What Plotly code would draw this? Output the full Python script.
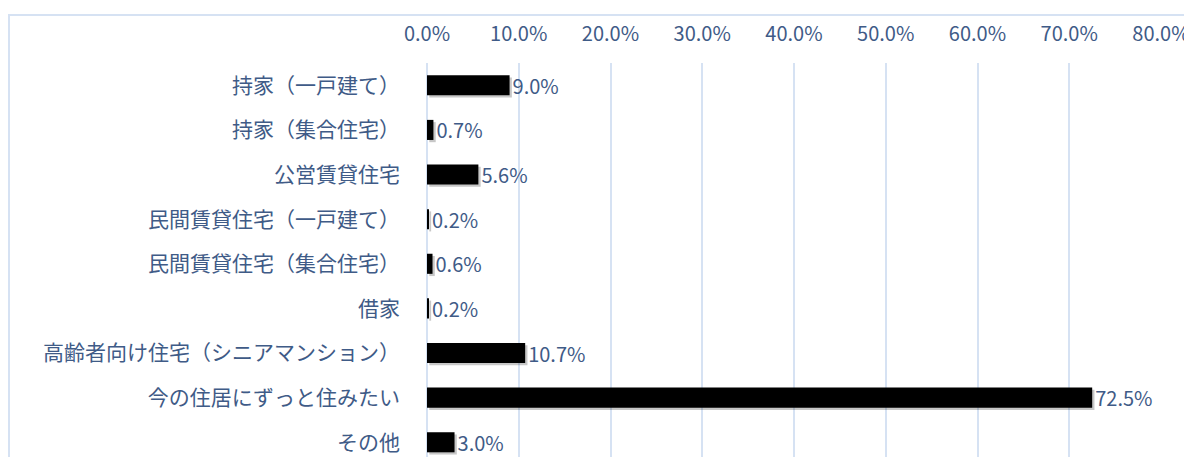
import plotly.graph_objs as go

# --- Data (top to bottom as shown in the chart) ---
categories = [
    "持家（一戸建て）",
    "持家（集合住宅）",
    "公営賃貸住宅",
    "民間賃貸住宅（一戸建て）",
    "民間賃貸住宅（集合住宅）",
    "借家",
    "高齢者向け住宅（シニアマンション）",
    "今の住居にずっと住みたい",
    "その他",
]
values = [9.0, 0.7, 5.6, 0.2, 0.6, 0.2, 10.7, 72.5, 3.0]
tick_vals = [0, 10, 20, 30, 40, 50, 60, 70, 80]
tick_text = [f"{v:.1f}%" for v in tick_vals]

# plotly draws the first category at the bottom, so flip the order
cats = categories[::-1]
vals = values[::-1]

TEXT_COLOR = "#3F5B87"
GRID_COLOR = "rgb(214,226,243)"
FONT = "Noto Sans CJK JP, Meiryo, sans-serif"
BAR_W = 0.45

# the page body has an 8px margin, so the figure is sized/offset for it
FIG_W, FIG_H = 1184, 449
M_L, M_R, M_T, M_B = 419, 31, 55, 0
PLOT_W = FIG_W - M_L - M_R
PLOT_H = FIG_H - M_T - M_B

# --- soft shadow behind the bars ---
trace_shadow = go.Bar(
    y=cats,
    x=vals,
    base=0.25,
    orientation="h",
    width=BAR_W,
    offset=-BAR_W / 2 - 0.05,
    marker=dict(color="rgba(0,0,0,0.22)", line=dict(width=0)),
    hoverinfo="skip",
    showlegend=False,
)

# --- main bars ---
trace_bar = go.Bar(
    y=cats,
    x=vals,
    orientation="h",
    width=BAR_W,
    offset=-BAR_W / 2,
    marker=dict(color="#000000", line=dict(width=0)),
    text=[f"{v:.1f}%" for v in vals],
    textposition="outside",
    constraintext="none",
    textfont=dict(color=TEXT_COLOR, size=20, family=FONT),
    cliponaxis=False,
    showlegend=False,
)

layout = go.Layout(
    width=FIG_W,
    height=FIG_H,
    margin=dict(l=M_L, r=M_R, t=M_T, b=M_B, autoexpand=False),
    paper_bgcolor="white",
    plot_bgcolor="white",
    barmode="overlay",
    font=dict(family=FONT, color=TEXT_COLOR, size=20),
    xaxis=dict(
        side="top",
        range=[0, 80],
        tickvals=tick_vals,
        ticktext=tick_text,
        showgrid=True,
        gridcolor=GRID_COLOR,
        gridwidth=2,
        zeroline=True,
        zerolinecolor=GRID_COLOR,
        zerolinewidth=2,
        showline=False,
        ticks="",
        ticklabelstandoff=17,
        tickfont=dict(size=20, color=TEXT_COLOR),
    ),
    yaxis=dict(
        type="category",
        categoryorder="array",
        categoryarray=cats,
        range=[-0.33, 8.5],
        showgrid=False,
        zeroline=False,
        showline=False,
        ticks="",
        ticklabelstandoff=26,
        tickfont=dict(size=21, color=TEXT_COLOR),
    ),
    shapes=[
        # chart frame (runs off the right and bottom edges)
        dict(
            type="rect",
            xref="paper",
            yref="paper",
            x0=-(M_L - 1) / PLOT_W,
            x1=1.1,
            y0=-0.2,
            y1=1 + (M_T - 7) / PLOT_H,
            line=dict(color=GRID_COLOR, width=2),
            layer="below",
        )
    ],
)

fig = go.Figure(data=[trace_shadow, trace_bar], layout=layout)
fig.write_html("out.html")
